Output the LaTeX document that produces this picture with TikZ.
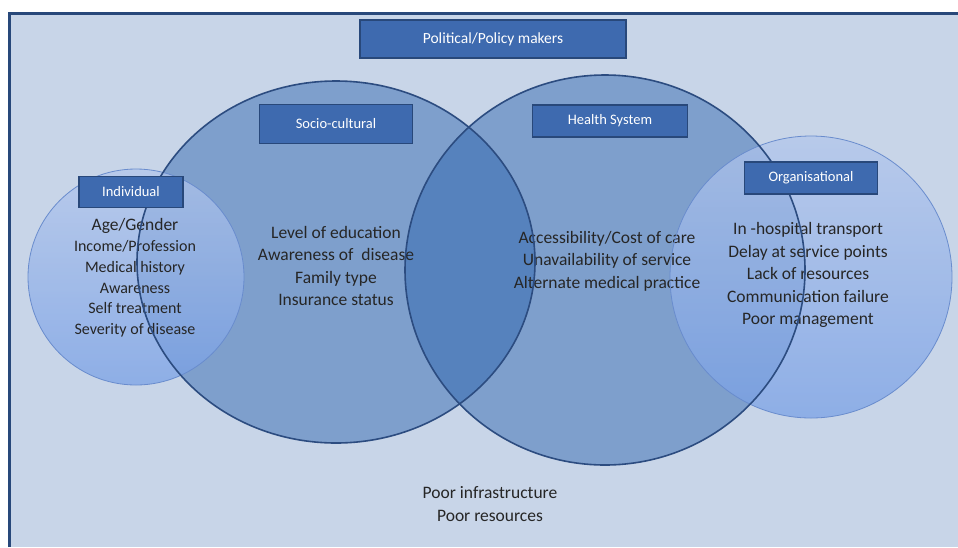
\documentclass[tikz,border=0pt]{standalone}
\usepackage{fontspec}
\setmainfont{Carlito}
\usetikzlibrary{shapes.geometric}
\definecolor{bgblue}{RGB}{200,213,232}
\definecolor{bigfill}{RGB}{38,95,172}
\definecolor{bigline}{RGB}{44,76,128}
\definecolor{boxfill}{RGB}{62,106,175}
\definecolor{boxline}{RGB}{40,72,122}
\definecolor{smalltop}{RGB}{178,198,236}
\definecolor{smallbot}{RGB}{120,160,230}
\definecolor{smallline}{RGB}{105,140,205}
\definecolor{txt}{RGB}{38,38,38}
\tikzset{
  bigcirc/.style={ellipse, inner sep=0pt, fill=bigfill, fill opacity=0.45},
  bigborder/.style={ellipse, inner sep=0pt, draw=bigline, line width=1.6pt},
  smallcirc/.style={circle, inner sep=0pt, top color=smalltop, bottom color=smallbot, fill opacity=0.72},
  smallborder/.style={circle, inner sep=0pt, draw=smallline, line width=0.8pt},
  labelbox/.style={rectangle, inner sep=0pt, fill=boxfill, draw=boxline, line width=1.5pt, text=white, font=\fontsize{14.5}{17}\selectfont},
  listtext/.style={align=center, text=txt, font=\fontsize{17.5}{22.5}\selectfont, inner sep=0pt}
}
\begin{document}
\begin{tikzpicture}[x=1pt,y=-1pt]
\useasboundingbox (0,0) rectangle (958,547);
\fill[white] (0,0) rectangle (958,547);
\fill[bgblue] (9,13) rectangle (958,547);
\draw[boxline, line width=3pt] (9.5,547) -- (9.5,13.5) -- (958,13.5);
% big circles (fills)
\node[bigcirc, minimum width=398pt, minimum height=362pt] (socio) at (336,262) {};
\node[bigcirc, minimum width=400pt, minimum height=390pt] (health) at (605,270) {};
% small circles (fills)
\node[smallcirc, minimum size=216pt] (indiv) at (136,277) {};
\node[smallcirc, minimum size=282pt] (org) at (811,277) {};
% lists
\node[listtext, font=\fontsize{16}{20.8}\selectfont] (indivtext) at (135,278) {{\fontsize{17.5}{20.8}\selectfont Age/Gender}\\Income/Profession\\Medical history\\Awareness\\Self treatment\\Severity of disease};
\node[listtext] (sociotext) at (336,266) {Level of education\\Awareness of~~disease\\Family type\\Insurance status};
\node[listtext] (healthtext) at (607,261) {Accessibility/Cost of care\\Unavailability of service\\Alternate medical practice};
\node[listtext] (orgtext) at (808,275) {In -hospital transport\\Delay at service points\\Lack of resources\\Communication failure\\Poor management};
\node[listtext] (bottomtext) at (490,504) {Poor infrastructure\\Poor resources};
% borders on top
\node[smallborder, minimum size=216pt] (indivb) at (indiv.center) {};
\node[smallborder, minimum size=282pt] (orgb) at (org.center) {};
\node[bigborder, minimum width=398pt, minimum height=362pt] (sociob) at (socio.center) {};
\node[bigborder, minimum width=400pt, minimum height=390pt] (healthb) at (health.center) {};
% label boxes
\node[labelbox, minimum width=266pt, minimum height=38pt, font=\fontsize{15.5}{18}\selectfont] (pol) at (493,39) {Political/Policy makers};
\node[labelbox, minimum width=153pt, minimum height=39pt] (sociolab) at (336,124) {Socio-cultural};
\node[labelbox, minimum width=155pt, minimum height=32pt] (healthlab) at (610,121) {Health System};
\node[labelbox, minimum width=104pt, minimum height=31pt] (indivlab) at (131,192) {Individual};
\node[labelbox, minimum width=133pt, minimum height=32pt] (orglab) at (811,178) {Organisational};
\end{tikzpicture}
\end{document}
